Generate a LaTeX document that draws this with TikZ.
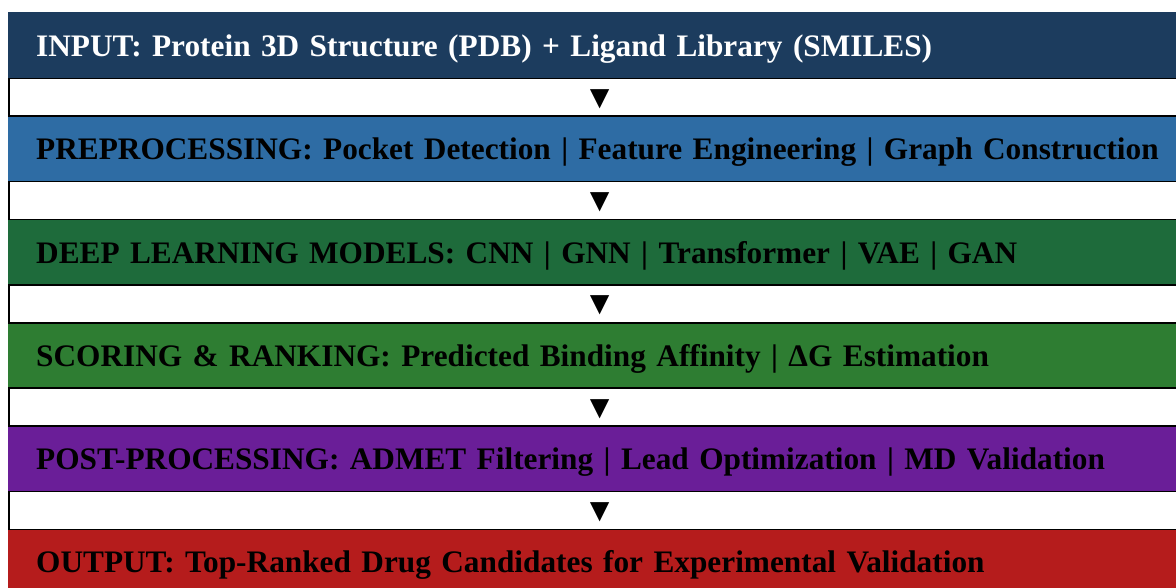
\documentclass[tikz,border=0pt]{standalone}
\usepackage{fontspec}
\setmainfont{Liberation Serif}
\definecolor{stageinput}{HTML}{1C3C5E}
\definecolor{stageprep}{HTML}{2E6CA4}
\definecolor{stagemodel}{HTML}{1E6B3B}
\definecolor{stagescore}{HTML}{2E7D32}
\definecolor{stagepost}{HTML}{6A1E98}
\definecolor{stageout}{HTML}{B51C1C}
\begin{document}
\begin{tikzpicture}[x=1pt,y=-1pt,
  band/.style={anchor=north west, minimum width=1182pt, minimum height=65.5pt,
    text width=1160pt, inner xsep=28pt, inner ysep=0pt, text height=24pt,
    text depth=1pt, align=left, font=\fontsize{31.3}{38}\selectfont\bfseries},
  gap/.style={anchor=north west, draw=black, line width=1.6pt, minimum width=1182pt,
    minimum height=37.8pt, inner sep=0pt, text height=22pt, text depth=0pt,
    font=\fontsize{33}{38}\selectfont}]
\useasboundingbox (0,0) rectangle (1176,587);
\clip (0,0) rectangle (1176,587);
% coloured stage rows
\node[band, fill=stageinput, text=white] (input) at (8,12)
  {INPUT: Protein 3D Structure (PDB) + Ligand Library (SMILES)};
\node[band, fill=stageprep] (prep) at (8,115.3)
  {PREPROCESSING: Pocket Detection | Feature Engineering | Graph Construction};
\node[band, fill=stagemodel] (models) at (8,218.6)
  {DEEP LEARNING MODELS: CNN | GNN | Transformer | VAE | GAN};
\node[band, fill=stagescore] (score) at (8,321.9)
  {SCORING \& RANKING: Predicted Binding Affinity | ΔG Estimation};
\node[band, fill=stagepost] (post) at (8,425.2)
  {POST-PROCESSING: ADMET Filtering | Lead Optimization | MD Validation};
\node[band, fill=stageout] (output) at (8,528.5)
  {OUTPUT: Top-Ranked Drug Candidates for Experimental Validation};
% white separator rows with the flow marker
\node[gap] (g1) at (8,77.5) {▼};
\node[gap] (g2) at (8,180.8) {▼};
\node[gap] (g3) at (8,284.1) {▼};
\node[gap] (g4) at (8,387.4) {▼};
\node[gap] (g5) at (8,490.7) {▼};
\end{tikzpicture}
\end{document}
